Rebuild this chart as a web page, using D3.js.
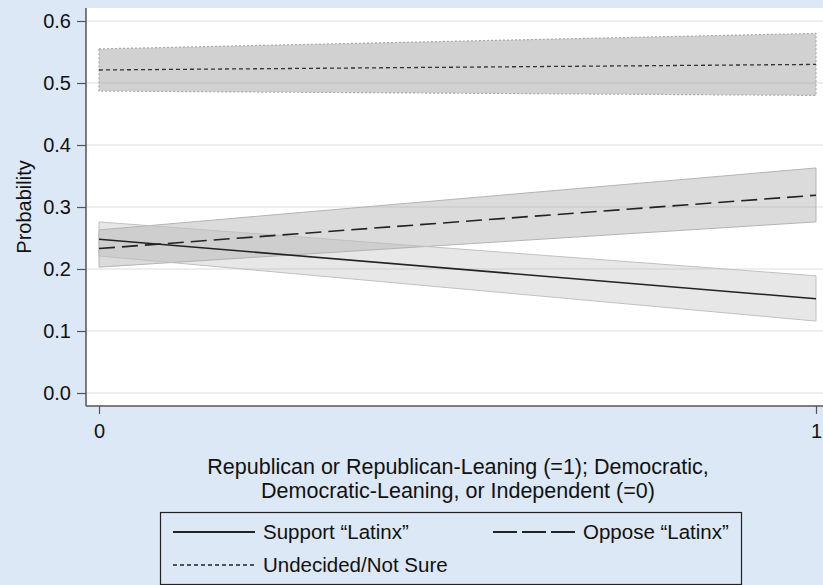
<!DOCTYPE html>
<html>
<head>
<meta charset="utf-8">
<script src="https://cdn.jsdelivr.net/npm/d3@7"></script>
<style>
  body { margin: 0; background: #dde8f6; }
  svg { display: block; font-family: "Liberation Sans", Arial, sans-serif; }
</style>
</head>
<body>
<svg width="823" height="585"></svg>
<script>
// The svg
const svg = d3.select("svg"),
  width = +svg.attr("width"),
  height = +svg.attr("height");

// Data: predicted probabilities at x = 0 and x = 1
const xValues = [0, 1];
const supportFit = [0.248, 0.152];
const supportLo = [0.221, 0.116];
const supportHi = [0.276, 0.189];
const opposeFit = [0.233, 0.319];
const opposeLo = [0.203, 0.276];
const opposeHi = [0.263, 0.363];
const undecidedFit = [0.521, 0.530];
const undecidedLo = [0.487, 0.480];
const undecidedHi = [0.555, 0.580];
const yTicks = [0, 0.1, 0.2, 0.3, 0.4, 0.5, 0.6];
const xTicks = [0, 1];

// Plot area
const plotLeft = 86, plotRight = 823, plotTop = 8, plotBottom = 406;

const x = d3.scaleLinear().domain([0, 1]).range([99, 816]);
const y = d3.scaleLinear().domain([0, 0.6]).range([393, 21]);

svg.append("rect")
  .attr("x", plotLeft)
  .attr("y", plotTop)
  .attr("width", plotRight - plotLeft)
  .attr("height", plotBottom - plotTop)
  .attr("fill", "white");

// gridlines
svg.append("g")
  .selectAll("line")
  .data(yTicks)
  .join("line")
  .attr("x1", plotLeft)
  .attr("x2", plotRight)
  .attr("y1", d => y(d))
  .attr("y2", d => y(d))
  .attr("stroke", "#e8e8e8")
  .attr("stroke-width", 1.5);

const band = (lo, hi) => d3.area()
  .x((d, i) => x(xValues[i]))
  .y0((d, i) => y(lo[i]))
  .y1((d, i) => y(hi[i]))(xValues);

const line = vals => d3.line()
  .x((d, i) => x(xValues[i]))
  .y((d, i) => y(vals[i]))(xValues);

// confidence bands
svg.append("path")
  .attr("d", band(undecidedLo, undecidedHi) + "Z")
  .attr("fill", "#9a9a9c")
  .attr("fill-opacity", 0.45)
  .attr("stroke", "#a8a8a8")
  .attr("stroke-width", 1.2)
  .attr("stroke-dasharray", "2,2");

svg.append("path")
  .attr("d", band(opposeLo, opposeHi) + "Z")
  .attr("fill", "#a0a0a4")
  .attr("fill-opacity", 0.38)
  .attr("stroke", "#b4b4b4")
  .attr("stroke-width", 1);

svg.append("path")
  .attr("d", band(supportLo, supportHi) + "Z")
  .attr("fill", "#b0b0b4")
  .attr("fill-opacity", 0.3)
  .attr("stroke", "#c0c0c0")
  .attr("stroke-width", 1);

// fitted lines
svg.append("path")
  .attr("d", line(undecidedFit))
  .attr("fill", "none")
  .attr("stroke", "#333")
  .attr("stroke-width", 1.3)
  .attr("stroke-dasharray", "4,3");

svg.append("path")
  .attr("d", line(opposeFit))
  .attr("fill", "none")
  .attr("stroke", "#222")
  .attr("stroke-width", 1.6)
  .attr("stroke-dasharray", "16,7");

svg.append("path")
  .attr("d", line(supportFit))
  .attr("fill", "none")
  .attr("stroke", "#222")
  .attr("stroke-width", 1.6);

// axes
const yAxis = svg.append("g")
  .attr("transform", `translate(${plotLeft},0)`)
  .call(d3.axisLeft(y).tickValues(yTicks).tickFormat(d3.format(".1f")).tickSize(9).tickSizeOuter(0));
yAxis.select(".domain").attr("d", `M0,${plotTop}V${plotBottom}`).attr("stroke", "#555").attr("stroke-width", 1.5);
yAxis.selectAll(".tick line").attr("stroke", "#555").attr("stroke-width", 1.2);
yAxis.selectAll(".tick text").attr("x", -15).style("font-size", "20px").attr("fill", "#111");

const xAxis = svg.append("g")
  .attr("transform", `translate(0,${plotBottom})`)
  .call(d3.axisBottom(x).tickValues(xTicks).tickFormat(d3.format("d")).tickSize(8).tickSizeOuter(0));
xAxis.select(".domain").attr("d", `M${plotLeft},0H${plotRight}`).attr("stroke", "#555").attr("stroke-width", 1.5);
xAxis.selectAll(".tick line").attr("stroke", "#555").attr("stroke-width", 1.2);
xAxis.selectAll(".tick text").attr("y", 18).style("font-size", "20px").attr("fill", "#111");

// axis titles
svg.append("text")
  .attr("transform", "translate(24,207) rotate(-90)")
  .attr("text-anchor", "middle")
  .attr("dy", "0.35em")
  .style("font-size", "20px")
  .attr("fill", "#111")
  .text("Probability");

const xTitle = ["Republican or Republican-Leaning (=1); Democratic,", "Democratic-Leaning, or Independent (=0)"];
svg.append("g")
  .selectAll("text")
  .data(xTitle)
  .join("text")
  .attr("x", 458)
  .attr("y", (d, i) => 474 + i * 24)
  .attr("text-anchor", "middle")
  .style("font-size", "21.5px")
  .attr("fill", "#111")
  .text(d => d);

// legend
const legendItems = [
  { label: "Support \u201cLatinx\u201d", dash: null, w: 2, col: 0, row: 0 },
  { label: "Oppose \u201cLatinx\u201d", dash: "24,5", w: 2, col: 1, row: 0 },
  { label: "Undecided/Not Sure", dash: "4,3", w: 1.4, col: 0, row: 1 }
];
const legend = svg.append("g").attr("transform", "translate(160,512)");
legend.append("rect")
  .attr("x", 0.5)
  .attr("y", 0.5)
  .attr("width", 581)
  .attr("height", 72)
  .attr("fill", "#dde8f6")
  .attr("stroke", "#222")
  .attr("stroke-width", 1.2);

const li = legend.selectAll(".legend-item")
  .data(legendItems)
  .join("g")
  .attr("class", "legend-item")
  .attr("transform", d => `translate(${13 + d.col * 320},${20 + d.row * 33})`);
li.append("line")
  .attr("x1", 0)
  .attr("x2", 82)
  .attr("stroke", "#222")
  .attr("stroke-width", d => d.w)
  .attr("stroke-dasharray", d => d.dash);
li.append("text")
  .attr("x", 90)
  .attr("dy", "0.35em")
  .style("font-size", "20.5px")
  .attr("fill", "#111")
  .text(d => d.label);
</script>
</body>
</html>
